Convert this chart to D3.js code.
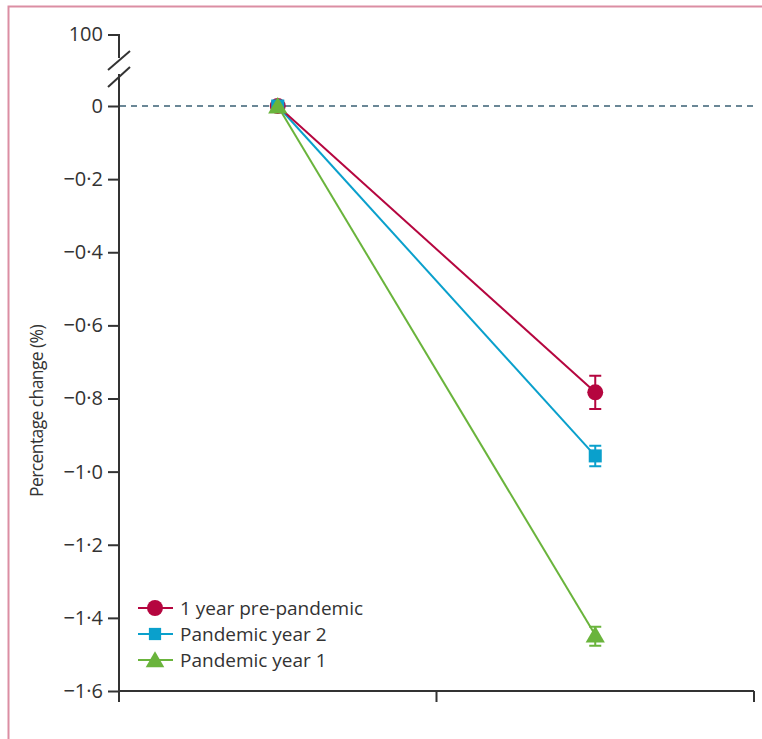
<!DOCTYPE html>
<html>
<head>
<meta charset="utf-8">
<script src="https://cdn.jsdelivr.net/npm/d3@7"></script>
<style>
  body { margin: 0; background: #fff; }
  text { font-family: "Open Sans", Lato, sans-serif; fill: #333; }
</style>
</head>
<body>
<svg width="762" height="739"></svg>
<script>
// data
const periods = ['Baseline', 'Follow-up'];
const xPos = [0.5, 1.5];
const seriesNames = ['1 year pre-pandemic', 'Pandemic year 2', 'Pandemic year 1'];
const endValues = [-0.783, -0.957, -1.447];
const lowerCI = [-0.829, -0.985, -1.476];
const upperCI = [-0.738, -0.929, -1.424];
const yTicks = [0, -0.2, -0.4, -0.6, -0.8, -1.0, -1.2, -1.4, -1.6];
const colors = ['#b5063f', '#0aa0cc', '#6ab43c'];
const shapes = [d3.symbolCircle, d3.symbolSquare, d3.symbolTriangle];

(function() {
	const svg = d3.select('svg');

	// pink frame
	svg.append('path')
		.attr('d', 'M8.5,739 L8.5,6.5 L762,6.5')
		.attr('fill', 'none')
		.attr('stroke', '#db8ea3')
		.attr('stroke-width', 2);

	const x = d3.scaleLinear().domain([0, 2]).range([119, 754]);
	const y = d3.scaleLinear().domain([-1.6, 0]).range([691, 106]);
	const yTop = 35;

	const fmt = d => d === 0 ? '0' : d3.format('.1f')(d).replace('-', '–').replace('.', '·');

	// y axis
	const yAxis = d3.axisLeft(y).tickValues(yTicks).tickFormat(fmt).tickSize(11).tickPadding(5);
	const gy = svg.append('g').attr('transform', 'translate(119,0)').call(yAxis);
	gy.select('.domain').remove();
	gy.selectAll('.tick line').attr('stroke', '#333').attr('stroke-width', 2);
	gy.selectAll('.tick text').style('font-size', '20px').attr('fill', '#333');

	// axis line with break
	svg.append('line').attr('x1', 119).attr('x2', 119).attr('y1', 74).attr('y2', 702)
		.attr('stroke', '#333').attr('stroke-width', 2);
	svg.append('path').attr('d', `M108,${yTop} L119,${yTop} L119,58`)
		.attr('fill', 'none').attr('stroke', '#333').attr('stroke-width', 2);
	svg.append('text').attr('x', 103).attr('y', yTop).attr('dy', '0.32em')
		.attr('text-anchor', 'end').style('font-size', '20px').text('100');
	[[108, 70, 130, 51], [108, 87, 130, 67]].forEach(s => {
		svg.append('line').attr('x1', s[0]).attr('y1', s[1]).attr('x2', s[2]).attr('y2', s[3])
			.attr('stroke', '#333').attr('stroke-width', 2);
	});

	// x axis
	svg.append('path').attr('d', `M119,${y(-1.6)} L754,${y(-1.6)}`)
		.attr('stroke', '#333').attr('stroke-width', 2);
	[1, 2].forEach(t => {
		svg.append('line').attr('x1', x(t)).attr('x2', x(t)).attr('y1', y(-1.6)).attr('y2', y(-1.6) + 11)
			.attr('stroke', '#333').attr('stroke-width', 2);
	});

	// zero line
	svg.append('line').attr('x1', 120).attr('x2', 754).attr('y1', y(0)).attr('y2', y(0))
		.attr('stroke', '#6a8796').attr('stroke-width', 1.8).attr('stroke-dasharray', '6,5');

	// y label
	svg.append('text')
		.attr('transform', 'translate(43,411) rotate(-90)')
		.attr('text-anchor', 'middle')
		.style('font-size', '17.5px')
		.style('letter-spacing', '-0.6px')
		.text('Percentage change (%)');

	// series lines and error bars
	const order = [2, 1, 0];
	order.forEach(i => {
		const g = svg.append('g');
		const pts = [[xPos[0], 0], [xPos[1], endValues[i]]];
		g.append('path')
			.attr('d', d3.line().x(d => x(d[0])).y(d => y(d[1]))(pts))
			.attr('stroke', colors[i]).attr('stroke-width', 2).attr('fill', 'none');
		const cx = x(xPos[1]);
		g.append('path')
			.attr('d', `M${cx - 6},${y(upperCI[i])} L${cx + 6},${y(upperCI[i])} M${cx},${y(upperCI[i])} L${cx},${y(lowerCI[i])} M${cx - 6},${y(lowerCI[i])} L${cx + 6},${y(lowerCI[i])}`)
			.attr('stroke', colors[i]).attr('stroke-width', 2).attr('fill', 'none');
	});
	// markers, green on top
	[0, 1, 2].forEach(i => {
		const size = i === 0 ? 200 : (i === 1 ? 170 : 160);
		svg.selectAll(null).data([[xPos[0], 0], [xPos[1], endValues[i]]]).enter()
			.append('path')
			.attr('d', d3.symbol().type(shapes[i]).size(size))
			.attr('transform', d => `translate(${x(d[0])},${y(d[1]) + (i === 2 ? 2 : 0)})`)
			.attr('fill', colors[i]);
	});

	// legend
	const leg = svg.append('g').attr('transform', 'translate(138,608)');
	seriesNames.forEach((name, i) => {
		const row = leg.append('g').attr('transform', `translate(0,${i * 26})`);
		row.append('line').attr('x1', 0).attr('x2', 35).attr('stroke', colors[i]).attr('stroke-width', 2);
		row.append('path').attr('d', d3.symbol().type(shapes[i]).size(i === 0 ? 200 : 150))
			.attr('transform', `translate(17,${i === 2 ? 2 : 0})`).attr('fill', colors[i]);
		row.append('text').attr('x', 42).attr('dy', '0.35em').style('font-size', '19px').text(name);
	});
})();
</script>
</body>
</html>
